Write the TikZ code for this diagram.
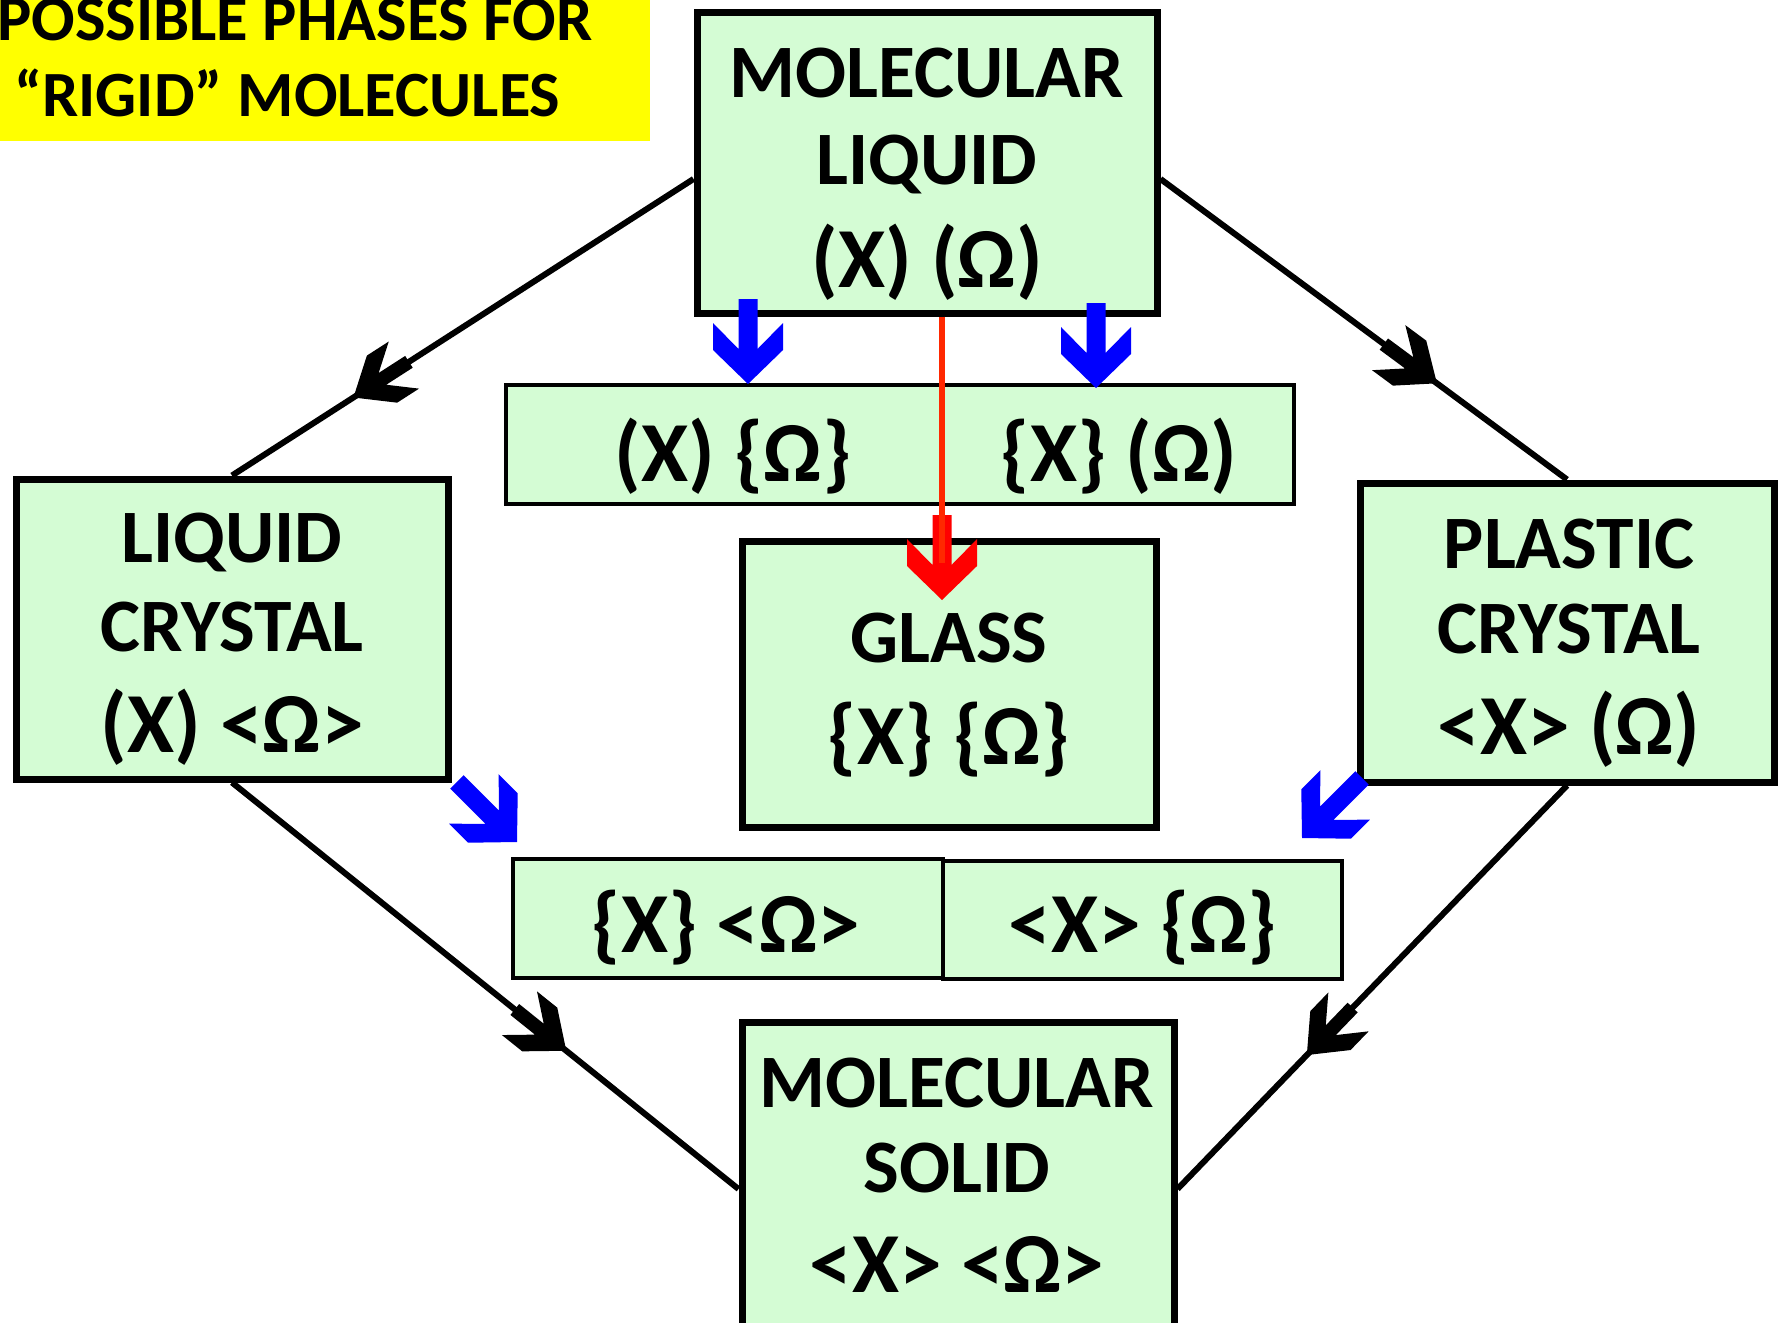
\documentclass[tikz,border=0pt]{standalone}
\usepackage{fontspec}
\setmainfont{Carlito}
\usetikzlibrary{calc,decorations.markings}
\definecolor{boxgreen}{RGB}{212,252,212}
\definecolor{redline}{RGB}{255,40,0}
\definecolor{titleyellow}{RGB}{255,255,0}
\tikzset{
  phasebox/.style={draw=black, fill=boxgreen, line width=7pt, inner sep=0pt},
  thinbox/.style={draw=black, fill=boxgreen, line width=4.5pt, inner sep=0pt},
  txt/.style={anchor=base, inner sep=0pt, font=\fontsize{75.5}{80}\selectfont\bfseries},
  sym/.style={anchor=base, inner sep=0pt, font=\fontsize{85.5}{90}\selectfont\bfseries},
  ttl/.style={anchor=base west, inner sep=0pt, font=\fontsize{64.5}{70}\selectfont\bfseries},
  conn/.style={draw=black, line width=6pt},
  midhead/.style={postaction={decorate}, decoration={markings, mark=at position #1 with {
      \fill[black] (0,0) -- (-34,28) -- (-60,28) -- (-34.5,7) -- (-66,7) -- (-66,-7) -- (-34.5,-7) -- (-60,-28) -- (-34,-28) -- cycle;}}},
  blockarrow/.pic={\fill (0,0) -- (-34,35) -- (-61,35) -- (-35,9.5) -- (-85,9.5) -- (-85,-9.5) -- (-35,-9.5) -- (-61,-35) -- (-34,-35) -- cycle;}
}
\begin{document}
\begin{tikzpicture}[x=1pt,y=-1pt]
\useasboundingbox (0,0) rectangle (1787,1322);
\clip (0,0) rectangle (1787,1322);

% title
\node[fill=titleyellow, minimum width=650pt, minimum height=141pt, anchor=north west, inner sep=0pt] (titlebox) at (0,0) {};
\node[ttl] (title1) at (-3,41) {POSSIBLE PHASES FOR};
\node[ttl] (title2) at (14,116) {“RIGID” MOLECULES};

% boxes used as connector ends
\node[phasebox, minimum width=460pt, minimum height=300pt] (ml) at (927,163) {};
\node[phasebox, minimum width=432pt, minimum height=300pt] (lc) at (232,629) {};
\node[phasebox, minimum width=414pt, minimum height=299pt] (pc) at (1567,632.5) {};
\node[phasebox, minimum width=432pt, minimum height=318pt] (ms) at (958,1181) {};

% connectors
\draw[conn, midhead=0.737] ($(ml.west)+(0,16)$) -- (lc.north);
\draw[conn, midhead=0.68] ($(ml.east)+(0,16)$) -- (pc.north);
\draw[conn, midhead=0.66] (lc.south) -- ($(ms.west)+(0,8)$);
\draw[conn, midhead=0.668] (pc.south) -- ($(ms.east)+(0,8)$);

% boxes drawn again over the connector ends
\node[phasebox, minimum width=460pt, minimum height=300pt] (ml2) at (ml) {};
\node[phasebox, minimum width=432pt, minimum height=300pt] (lc2) at (lc) {};
\node[phasebox, minimum width=414pt, minimum height=299pt] (pc2) at (pc) {};
\node[phasebox, minimum width=432pt, minimum height=318pt] (ms2) at (ms) {};
\node[thinbox, minimum width=788pt, minimum height=119pt] (mid) at (900,444.5) {};
\node[phasebox, minimum width=414pt, minimum height=286pt] (glass) at (949,684) {};
\node[thinbox, minimum width=430pt, minimum height=119pt] (lowl) at (728,918.5) {};
\node[thinbox, minimum width=399pt, minimum height=118pt] (lowr) at (1142.5,920) {};

% texts
\node[txt] (mlt1) at (927,97) {MOLECULAR};
\node[txt] (mlt2) at (927,184) {LIQUID};
\node[sym] (mlt3) at (927,287) {(X) (Ω)};
\node[txt] (lct1) at (232,562) {LIQUID};
\node[txt] (lct2) at (232,651) {CRYSTAL};
\node[sym] (lct3) at (232,752) {(X) <Ω>};
\node[txt] (pct1) at (1569,568) {PLASTIC};
\node[txt] (pct2) at (1569,653) {CRYSTAL};
\node[sym] (pct3) at (1569,754) {<X> (Ω)};
\node[txt] (gt1) at (949,662) {GLASS};
\node[sym] (gt2) at (949,764) {\{X\} \{Ω\}};
\node[sym] (midt1) at (733,481) {(X) \{Ω\}};
\node[sym] (midt2) at (1119,481) {\{X\} (Ω)};
\node[sym] (lowlt) at (726,952) {\{X\} <Ω>};
\node[sym] (lowrt) at (1143,952) {<X> \{Ω\}};
\node[txt] (mst1) at (957,1107) {MOLECULAR};
\node[txt] (mst2) at (957,1192) {SOLID};
\node[sym] (mst3) at (957,1292) {<X> <Ω>};

% red arrow
\pic[red, rotate=-90] at (942,600) {blockarrow};
\coordinate (redend) at (942,563);
\draw[redline, line width=6.5pt] ($(ml.south)+(15,0)$) -- (redend);

% blue arrows
\pic[blue, rotate=-90] at (748,384) {blockarrow};
\pic[blue, rotate=-90] at (1096,388) {blockarrow};
\pic[blue, rotate=-45] at (517,842) {blockarrow};
\pic[blue, rotate=-135] at (1302,838) {blockarrow};
\end{tikzpicture}
\end{document}
